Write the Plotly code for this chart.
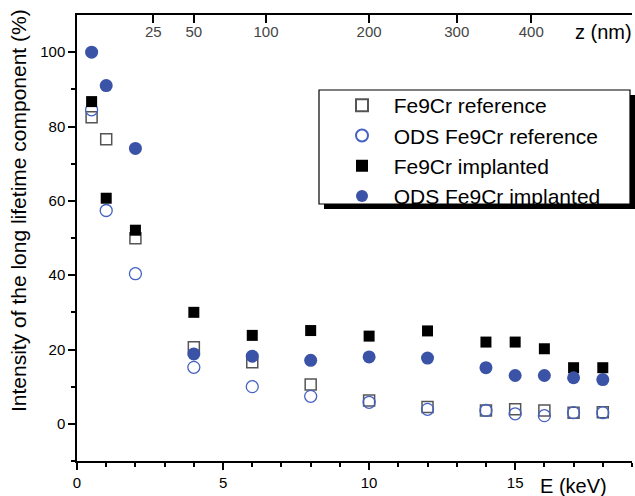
import plotly.graph_objects as go

# ---- data ----
energy_keV = [0.5, 1, 2, 4, 6, 8, 10, 12, 14, 15, 16, 17, 18]
fe9cr_reference = [82.5, 76.6, 49.9, 20.6, 16.6, 10.6, 6.3, 4.5, 3.6, 3.9, 3.6, 3.0, 3.1]
ods_fe9cr_reference = [84.5, 57.4, 40.4, 15.2, 10.0, 7.4, 5.8, 3.9, 3.6, 2.7, 2.2, 3.0, 3.0]
fe9cr_implanted = [86.7, 60.7, 52.1, 30.0, 23.8, 25.1, 23.6, 25.0, 22.0, 22.0, 20.2, 15.1, 15.1]
ods_fe9cr_implanted = [100.0, 91.0, 74.1, 18.8, 18.2, 17.1, 18.0, 17.7, 15.1, 13.0, 13.0, 12.4, 11.9]

x_tick_vals = [0, 5, 10, 15]
y_tick_vals = [0, 20, 40, 60, 80, 100]
z_tick_labels = ["25", "50", "100", "200", "300", "400"]
z_tick_energy = [2.61, 4.0, 6.47, 10.0, 13.0, 15.55]

FONT = "Liberation Sans, Arial, sans-serif"
BLUE = "#3a53a6"

fig = go.Figure()
fig.add_trace(go.Scatter(x=energy_keV, y=fe9cr_reference, mode="markers",
                         name="\u00a0\u00a0Fe9Cr reference",
                         marker=dict(symbol="square-open", size=11, color="#555555",
                                     line=dict(width=1.5, color="#555555"))))
fig.add_trace(go.Scatter(x=energy_keV, y=ods_fe9cr_reference, mode="markers",
                         name="\u00a0\u00a0ODS Fe9Cr reference",
                         marker=dict(symbol="circle-open", size=12, color="#4562c2",
                                     line=dict(width=1.3, color="#4562c2"))))
fig.add_trace(go.Scatter(x=energy_keV, y=fe9cr_implanted, mode="markers",
                         name="\u00a0\u00a0Fe9Cr implanted",
                         marker=dict(symbol="square", size=11, color="black",
                                     line=dict(width=0))))
fig.add_trace(go.Scatter(x=energy_keV, y=ods_fe9cr_implanted, mode="markers",
                         name="\u00a0\u00a0ODS Fe9Cr implanted",
                         marker=dict(symbol="circle", size=13, color=BLUE,
                                     line=dict(width=0))))
# invisible trace to activate the top axis
fig.add_trace(go.Scatter(x=[0, 19], y=[None, None], xaxis="x2", showlegend=False,
                         hoverinfo="skip", mode="markers"))

L, R, T, B = 77, 632, 15, 461
W, H = 635, 496
pw, ph = R - L, B - T

def px(x):
    return (x - L) / pw

def py(y):
    return (B - y) / ph

fig.update_layout(
    width=W, height=H,
    margin=dict(l=L, r=W - R, t=T, b=H - B, pad=0),
    paper_bgcolor="white", plot_bgcolor="white",
    font=dict(family=FONT, size=15, color="black"),
    showlegend=True,
    legend=dict(x=px(342), y=py(85), xanchor="left", yanchor="top",
                bgcolor="rgba(0,0,0,0)", borderwidth=0,
                font=dict(size=21, family=FONT), tracegroupgap=0,
                itemsizing="constant"),
    xaxis=dict(range=[0, 19], tickvals=x_tick_vals, ticks="outside", ticklen=7,
               tickwidth=1.5, tickcolor="black", showline=True, linewidth=1.5,
               linecolor="black", showgrid=False, zeroline=False,
               minor=dict(dtick=1, tick0=0, ticks="outside", ticklen=4,
                          tickwidth=1.5, tickcolor="black", showgrid=False),
               tickfont=dict(size=15)),
    xaxis2=dict(range=[0, 19], overlaying="x", side="top", tickvals=z_tick_energy,
                ticktext=z_tick_labels, ticks="inside", ticklen=8, tickwidth=1.5,
                tickcolor="black", showline=True, linewidth=1.5, linecolor="black",
                showgrid=False, zeroline=False, ticklabelposition="inside",
                ticklabelstandoff=4, tickfont=dict(size=15)),
    yaxis=dict(range=[-10, 110], tickvals=y_tick_vals, ticks="outside", ticklen=7,
               tickwidth=1.5, tickcolor="black", showline=True, linewidth=1.5,
               linecolor="black", showgrid=False, zeroline=False,
               minor=dict(dtick=10, tick0=0, ticks="outside", ticklen=4,
                          tickwidth=1.5, tickcolor="black", showgrid=False),
               tickfont=dict(size=15)),
    shapes=[
        dict(type="rect", xref="paper", yref="paper",
             x0=px(324), x1=px(635), y0=py(209), y1=py(95),
             fillcolor="black", line=dict(width=0), layer="above"),
        dict(type="rect", xref="paper", yref="paper",
             x0=px(319), x1=px(630), y0=py(204), y1=py(90),
             fillcolor="white", line=dict(width=1.2, color="black"), layer="above"),
    ],
    annotations=[
        dict(text="E (keV)", xref="paper", yref="paper", x=px(573), y=py(486),
             showarrow=False, font=dict(size=20, family=FONT), xanchor="center",
             yanchor="middle"),
        dict(text="z (nm)", xref="paper", yref="paper", x=px(603), y=py(32),
             showarrow=False, font=dict(size=20, family=FONT), xanchor="center",
             yanchor="middle"),
        dict(text="Intensity of the long lifetime component (%)", xref="paper",
             yref="paper", x=px(18), y=py(211), textangle=-90, showarrow=False,
             font=dict(size=21, family=FONT), xanchor="center", yanchor="middle"),
    ],
)

fig.write_html("out.html", config={"displayModeBar": False},
               post_script="document.body.style.margin='0px';")
